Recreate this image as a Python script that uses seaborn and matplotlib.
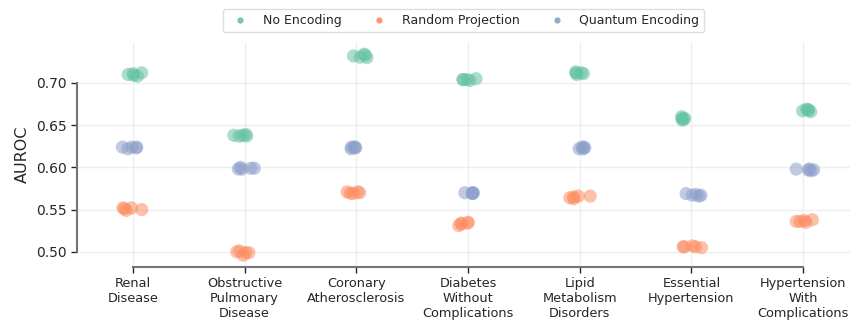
import numpy as np
import pandas as pd
import matplotlib
matplotlib.use("Agg")
import matplotlib.pyplot as plt
from matplotlib.lines import Line2D
import seaborn as sns

# Disease prediction tasks (x axis)
tasks = [
    "Renal\nDisease",
    "Obstructive\nPulmonary\nDisease",
    "Coronary\nAtherosclerosis",
    "Diabetes\nWithout\nComplications",
    "Lipid\nMetabolism\nDisorders",
    "Essential\nHypertension",
    "Hypertension\nWith\nComplications",
]

methods = ["No Encoding", "Random Projection", "Quantum Encoding"]

# AUROC per run, one list of five runs per task
no_encoding = [
    [0.709, 0.708, 0.710, 0.711, 0.712],
    [0.637, 0.638, 0.639, 0.637, 0.638],
    [0.730, 0.7305, 0.733, 0.734, 0.732],
    [0.705, 0.703, 0.704, 0.704, 0.704],
    [0.710, 0.711, 0.712, 0.712, 0.713],
    [0.660, 0.658, 0.658, 0.657, 0.656],
    [0.668, 0.667, 0.666, 0.668, 0.669],
]
random_projection = [
    [0.550, 0.551, 0.549, 0.552, 0.552],
    [0.501, 0.499, 0.496, 0.500, 0.499],
    [0.571, 0.570, 0.571, 0.569, 0.5695],
    [0.533, 0.534, 0.535, 0.531, 0.534],
    [0.566, 0.564, 0.563, 0.566, 0.565],
    [0.506, 0.507, 0.506, 0.505, 0.506],
    [0.538, 0.535, 0.536, 0.537, 0.536],
]
quantum_encoding = [
    [0.624, 0.624, 0.623, 0.622, 0.624],
    [0.599, 0.600, 0.598, 0.598, 0.599],
    [0.624, 0.623, 0.622, 0.624, 0.624],
    [0.570, 0.569, 0.570, 0.569, 0.570],
    [0.624, 0.622, 0.623, 0.622, 0.624],
    [0.567, 0.568, 0.569, 0.567, 0.566],
    [0.598, 0.597, 0.598, 0.597, 0.596],
]

rows = []
for method, series in zip(methods, [no_encoding, random_projection, quantum_encoding]):
    for task, runs in zip(tasks, series):
        for v in runs:
            rows.append({"Task": task, "Method": method, "AUROC": v})
df = pd.DataFrame(rows)

sns.set_style("ticks")
plt.rcParams["font.family"] = ["DejaVu Sans"]

palette = sns.color_palette("Set2", 3)

fig = plt.figure(figsize=(8.5, 3.2), dpi=100)
ax = fig.add_axes([77 / 850, 53 / 320, 1 - 77 / 850, 225 / 320])

np.random.seed(3)
sns.stripplot(
    data=df, x="Task", y="AUROC", hue="Method",
    order=tasks, hue_order=methods, palette=palette,
    jitter=0.1, dodge=False, size=9.5, alpha=0.55, linewidth=0,
    ax=ax, legend=False, zorder=3,
)

ax.set_ylim(0.482, 0.7485)
ax.set_xlim(-0.5, 6.42)
ax.set_yticks([0.50, 0.55, 0.60, 0.65, 0.70])
ax.set_yticklabels(["0.50", "0.55", "0.60", "0.65", "0.70"])
ax.grid(True, color="#eeeeee", linewidth=1.0, zorder=0)
ax.set_axisbelow(True)

ax.set_xlabel("")
ax.set_ylabel("AUROC", fontsize=11.5)
ax.tick_params(axis="y", labelsize=10, length=4.5, width=1, color="0.15", pad=3)
ax.tick_params(axis="x", labelsize=9.3, length=4.5, width=1, color="0.15", pad=3)

sns.despine(ax=ax, trim=True)
for side in ("left", "bottom"):
    ax.spines[side].set_color("0.45")
    ax.spines[side].set_linewidth(1.5)

handles = [
    Line2D([0], [0], marker="o", linestyle="", markersize=4.5,
           markerfacecolor=c, markeredgewidth=0, alpha=0.9, label=m)
    for m, c in zip(methods, palette)
]
ax.legend(handles=handles, loc="lower center", bbox_to_anchor=(0.5, 1.044),
          ncol=3, fontsize=9, frameon=True, borderaxespad=0,
          edgecolor="#d5d5d5", fancybox=True)

fig.savefig("out.png", dpi=100)
